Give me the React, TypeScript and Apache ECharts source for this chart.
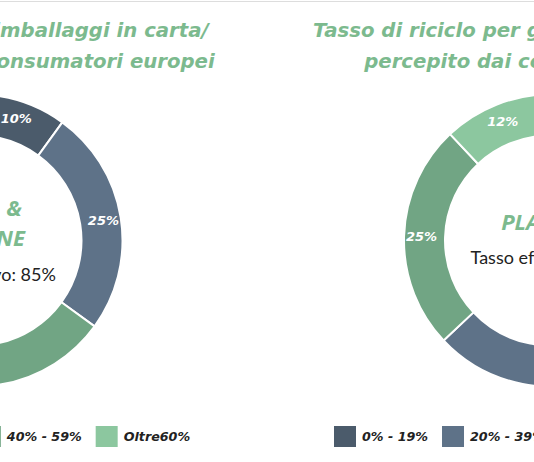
import React, { useEffect, useRef } from "react";
import * as echarts from "echarts";

const categories = ["0% - 19%", "20% - 39%", "40% - 59%", "Oltre60%"];
const cartaValues = [10, 25, 50, 15];
const plasticaValues = [23, 40, 25, 12];
const colors = ["#4b5b6b", "#5e7288", "#71a584", "#8cc79f"];
const cartaTitle = ["Tasso di riciclo per gli imballaggi in carta/", "cartone percepito dai consumatori europei"];
const plasticaTitle = ["Tasso di riciclo per gli imballaggi in plastica", "percepito dai consumatori europei"];
const cartaCenter = ["CARTA &", "CARTONE"];
const plasticaCenter = ["PLASTICA"];
const cartaRate = "Tasso effettivo: 85%";
const plasticaRate = "Tasso effettivo: 42%";

const W = 1146;
const H = 462;
const OFFSET = 310;
const GREEN = "#7cba8e";

export default function App() {
  const ref = useRef<HTMLDivElement>(null);
  useEffect(() => {
    if (!ref.current) return;
    const chart = echarts.init(ref.current, undefined, { renderer: "svg" });
    const cx = [286.5, 860];
    const cy = 240.5;
    const titleX = [287, 866];
    const pie = (name: string, values: number[], c: number) => ({
      type: "pie",
      name,
      center: [c, cy],
      radius: [105, 146],
      startAngle: 90,
      clockwise: true,
      avoidLabelOverlap: false,
      itemStyle: { borderColor: "#ffffff", borderWidth: 2 },
      label: {
        show: true,
        position: "inside",
        formatter: "{c}%",
        color: "#ffffff",
        fontFamily: "'DejaVu Sans', sans-serif",
        fontWeight: "bold",
        fontStyle: "italic",
        fontSize: 13,
      },
      labelLine: { show: false },
      emphasis: { disabled: true },
      data: categories.map((n, i) => ({ name: n, value: values[i], itemStyle: { color: colors[i] } })),
    });
    const legend = (left: number) => ({
      left,
      top: 424,
      padding: 0,
      orient: "horizontal",
      icon: "rect",
      itemWidth: 24,
      itemHeight: 23,
      itemGap: 12,
      selectedMode: false,
      data: categories,
      textStyle: {
        color: "#222222",
        fontFamily: "'DejaVu Sans', sans-serif",
        fontWeight: "bold",
        fontStyle: "italic",
        fontSize: 12.7,
      },
    });
    const text = (t: string, x: number, y: number, opts: any) => ({
      type: "text",
      x,
      y,
      silent: true,
      style: {
        text: t,
        align: "center",
        verticalAlign: "middle",
        ...opts,
      },
    });
    const titleStyle = {
      fill: GREEN,
      fontFamily: "'DejaVu Sans', sans-serif",
      fontWeight: "bold",
      fontStyle: "italic",
      fontSize: 19.7,
    };
    const centerStyle = {
      fill: GREEN,
      fontFamily: "'Noto Sans', sans-serif",
      fontWeight: "bold",
      fontStyle: "italic",
      fontSize: 22,
    };
    const rateStyle = {
      fill: "#222222",
      fontFamily: "Lato, sans-serif",
      fontWeight: "normal",
      fontSize: 18,
    };
    chart.setOption({
      animation: false,
      backgroundColor: "#ffffff",
      legend: [legend(62), legend(642)],
      graphic: [
        {
          type: "line",
          shape: { x1: 0, y1: 1.5, x2: W, y2: 1.5 },
          style: { stroke: "#dddddd", lineWidth: 1 },
          silent: true,
        },
        text(cartaTitle[0], titleX[0], 30, titleStyle),
        text(cartaTitle[1], titleX[0], 61, titleStyle),
        text(plasticaTitle[0], titleX[1], 30, titleStyle),
        text(plasticaTitle[1], titleX[1], 61, titleStyle),
        text(cartaCenter[0], cx[0] + 2, 207, centerStyle),
        text(cartaCenter[1], cx[0], 237, centerStyle),
        text(plasticaCenter[0], cx[1], 221, centerStyle),
        text(cartaRate, cx[0], 274, rateStyle),
        text(plasticaRate, cx[1], 257, rateStyle),
      ],
      series: [pie("carta", cartaValues, cx[0]), pie("plastica", plasticaValues, cx[1])],
    });
    return () => chart.dispose();
  }, []);
  return (
    <div style={{ position: "fixed", left: 0, top: 0, width: 534, height: 462, overflow: "hidden", background: "#fff" }}>
      <div ref={ref} style={{ position: "absolute", left: -OFFSET, top: 0, width: W, height: H }} />
    </div>
  );
}
